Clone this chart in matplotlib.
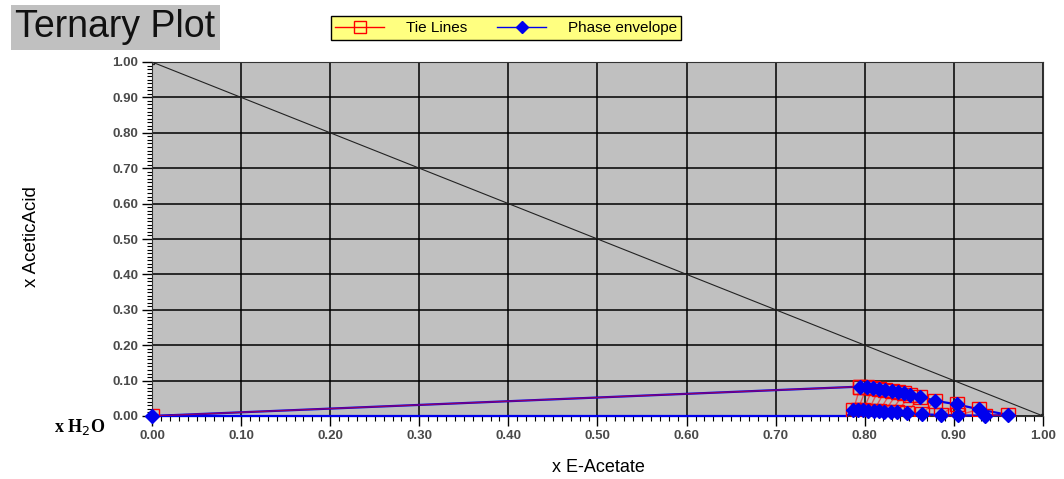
import numpy as np
import matplotlib.pyplot as plt
from matplotlib.ticker import MultipleLocator, FormatStrFormatter
from matplotlib.lines import Line2D

plt.rcParams["font.family"] = ["Liberation Sans", "DejaVu Sans"]

# phase 1 (acid-rich branch)
upper_x = [0.795, 0.802, 0.809, 0.816, 0.823, 0.830, 0.837, 0.844, 0.851, 0.862, 0.879, 0.903, 0.928, 0.961]
upper_y = [0.083, 0.081, 0.078, 0.076, 0.073, 0.070, 0.067, 0.064, 0.060, 0.055, 0.043, 0.033, 0.019, 0.003]
# phase 2 (lower branch)
lower_x = [0.787, 0.792, 0.798, 0.804, 0.810, 0.816, 0.822, 0.829, 0.836, 0.847, 0.864, 0.885, 0.905, 0.935]
lower_y = [0.017, 0.016, 0.016, 0.015, 0.014, 0.013, 0.012, 0.011, 0.010, 0.008, 0.005, 0.003, 0.002, 0.001]

# first tie line from the water corner
origin_x, origin_y = 0.0, 0.0
# triangle hypotenuse
edge_x = [0.0, 1.0]
edge_y = [1.0, 0.0]

ticks = np.arange(0, 1.01, 0.1)

W, H = 1064, 479
fig = plt.figure(figsize=(W / 100, H / 100), dpi=100)
ax = fig.add_axes([152 / W, 1 - 416 / H, (1043 - 152) / W, (416 - 62) / H])
ax.set_facecolor("#c0c0c0")

ax.set_xlim(0, 1)
ax.set_ylim(0, 1)
ax.set_xticks(ticks)
ax.set_yticks(ticks)
ax.xaxis.set_minor_locator(MultipleLocator(0.01))
ax.yaxis.set_minor_locator(MultipleLocator(0.01))
ax.xaxis.set_major_formatter(FormatStrFormatter("%.2f"))
ax.yaxis.set_major_formatter(FormatStrFormatter("%.2f"))
ax.tick_params(which="major", direction="out", length=7, width=1, labelsize=9.5,
               labelcolor="#4a4a4a", pad=3)
ax.tick_params(which="minor", direction="out", length=3.5, width=0.8)
for lab in ax.get_xticklabels() + ax.get_yticklabels():
    lab.set_fontweight("bold")
ax.grid(True, which="major", color="black", linewidth=1.1)
ax.set_axisbelow(True)
for s in ax.spines.values():
    s.set_color("#333333")

# hypotenuse
ax.plot(edge_x, edge_y, color="#222222", linewidth=0.8, marker="s", markersize=3,
        markerfacecolor="none", zorder=3)

# tie lines
tx = [[origin_x, upper_x[0]]] + [[a, b] for a, b in zip(upper_x, lower_x)]
ty = [[origin_y, upper_y[0]]] + [[a, b] for a, b in zip(upper_y, lower_y)]

# phase envelope
env_x = [origin_x] + upper_x + lower_x[::-1] + [0.78, 0.0]
env_y = [origin_y] + upper_y + lower_y[::-1] + [0.0, 0.0]
ax.plot(env_x, env_y, color="#0000ee", linewidth=1.6, zorder=4, clip_on=False)

for x, y in zip(tx, ty):
    ax.plot(x, y, color="red", linewidth=1.0, alpha=0.55, zorder=5)
    ax.plot(x, y, linestyle="none", marker="s", markersize=10,
            markerfacecolor="none", markeredgecolor="red", markeredgewidth=1.0, zorder=5)

pts_x = [origin_x] + upper_x + lower_x
pts_y = [origin_y] + upper_y + lower_y
ax.plot(pts_x, pts_y, linestyle="none", marker="D", markersize=7,
        color="#0000ee", zorder=6, clip_on=False)

ax.set_xlabel("x E-Acetate", fontsize=13)
ax.xaxis.set_label_coords(598 / W, 1 - 467 / H, transform=fig.transFigure)
ax.xaxis.label.set_va("center")
ax.set_ylabel("x AceticAcid", fontsize=13.5)
ax.yaxis.set_label_coords(31 / W, 1 - 237 / H, transform=fig.transFigure)
ax.yaxis.label.set_va("center")

fig.text(80 / W, 1 - 427 / H, r"x H$_2$O", family="Liberation Serif", fontweight="bold",
         fontsize=13, ha="center", va="center")

fig.text(15 / W, 1 - 27 / H, "Ternary Plot", fontsize=27, ha="left", va="center",
         color="#111111",
         bbox=dict(boxstyle="square,pad=0.12", facecolor="#c0c0c0", edgecolor="none"))

handles = [
    Line2D([], [], color="red", marker="s", markerfacecolor="none", markersize=9, linewidth=1),
    Line2D([], [], color="#0000ee", marker="D", markersize=6, linewidth=1),
]
fig.legend(handles, ["Tie Lines", "Phase envelope"], loc="center", ncol=2,
           bbox_to_anchor=(506 / W, 1 - 28 / H), fontsize=11, frameon=True,
           facecolor="#ffff80", edgecolor="black", fancybox=False, framealpha=1,
           handlelength=3.2, handletextpad=1.4, columnspacing=2.0, borderpad=0.3,
           borderaxespad=0)

fig.savefig("out.png", dpi=100)
